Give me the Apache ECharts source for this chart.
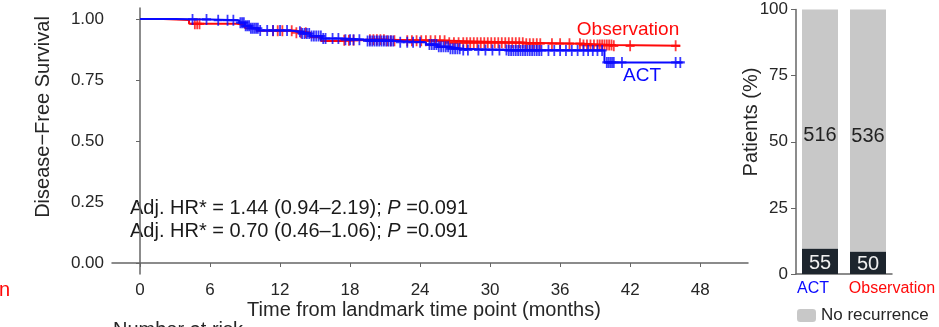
<!DOCTYPE html>
<html>
<head>
<meta charset="utf-8">
<script src="https://cdn.jsdelivr.net/npm/echarts@6/dist/echarts.min.js"></script>
<style>
html,body{margin:0;padding:0;background:#fff;}
#c{width:939px;height:327px;}
</style>
</head>
<body>
<div id="c"></div>
<script>
// ---- Data ----
const xTicks = [0, 6, 12, 18, 24, 30, 36, 42, 48];
const yTicks = [0, 0.25, 0.5, 0.75, 1];

// Kaplan-Meier steps [month, survival]
const actSteps = [[0,1.0],[3,0.998],[6,0.995],[8.5,0.985],[9.0,0.972],[9.5,0.962],[10.2,0.953],[12.8,0.948],[13.8,0.94],[14.6,0.93],[15.6,0.92],[17.5,0.915],[19.5,0.91],[22.0,0.905],[24.5,0.895],[25.5,0.886],[26.5,0.878],[27.6,0.873],[31.5,0.871],[39.8,0.822],[46.5,0.822]];
const obsSteps = [[0,1.0],[2.0,0.996],[4.2,0.98],[8.3,0.975],[9.0,0.962],[10.0,0.952],[13.3,0.944],[14.6,0.925],[15.5,0.91],[17.2,0.913],[18.5,0.915],[21.0,0.911],[26.5,0.903],[33.0,0.899],[38.0,0.893],[40.5,0.89],[46.3,0.89]];

// censoring times
const actCensor = [4.5,5.7,6.7,7.5,8.0,8.6,8.75,8.9,9.05,9.2,9.35,9.5,9.65,9.8,9.95,10.1,10.3,10.9,11.4,12.0,12.6,13.7,13.9,14.1,14.3,14.5,14.7,14.9,15.1,15.3,15.5,15.7,15.9,16.5,17.0,17.6,18.0,18.3,18.8,19.5,19.7,19.9,20.1,20.3,20.5,20.7,20.9,21.1,21.3,21.5,21.7,22.3,22.9,23.4,24.0,24.8,25.0,25.2,25.4,25.6,25.8,26.0,26.2,26.4,26.6,26.8,27.0,27.2,27.4,27.7,28.1,29.0,29.6,30.2,30.8,31.4,31.6,31.8,32.0,32.2,32.4,32.6,32.8,33.0,33.2,33.4,33.6,33.8,34.0,34.2,34.4,35.0,35.5,36.0,36.5,37.0,37.5,38.0,38.4,38.8,39.2,39.6,40.0,40.15,40.3,40.45,40.6,41.3,45.9,46.3];
const obsCensor = [4.7,4.9,5.1,11.4,11.8,12.2,13.0,13.4,13.8,14.2,17.5,17.9,18.3,19.7,20.0,20.3,20.6,20.9,21.2,21.5,21.8,22.9,23.3,23.7,24.1,24.5,24.9,25.3,25.7,26.1,26.5,26.9,27.3,27.7,28.0,28.3,28.6,28.9,29.2,29.5,29.8,30.1,30.4,30.7,31.0,31.3,31.6,31.9,32.2,32.5,32.8,33.1,33.4,33.7,34.0,34.3,35.3,36.0,36.8,37.7,38.0,38.3,38.6,38.9,39.2,39.4,39.6,39.8,40.0,40.2,40.4,40.6,42.0,45.9];

// bar chart
const barCategories = ['ACT', 'Observation'];
const noRecurrence = [516, 536];
const recurrence = [55, 50];

// ---- helpers ----
function survAt(steps, t) {
  let v = steps[0][1];
  for (const s of steps) { if (s[0] <= t) v = s[1]; else break; }
  return v;
}
const FONT = 'Liberation Sans, Arial, sans-serif';
const BLUE = '#0a0aff';
const RED = '#ff0a0a';
const plus = 'path://M4,0h2v10h-2z M0,4h10v2h-10z';

const pctRec = recurrence.map((r, i) => r / (r + noRecurrence[i]) * 100);
const pctNo = noRecurrence.map((n, i) => n / (n + recurrence[i]) * 100);

const chart = echarts.init(document.getElementById('c'), null, {renderer: 'canvas'});
const axisCol = '#666';
const labCol = '#262626';

chart.setOption({
  animation: false,
  textStyle: {fontFamily: FONT},
  grid: [
    {left: 112, top: 8, width: 636, height: 266},
    {left: 796, top: 9.5, width: 96, height: 264.5}
  ],
  legend: {
    data: ['No recurrence', 'Recurrence'],
    orient: 'vertical', left: 797, top: 307, height: 80, padding: 0,
    itemWidth: 19, itemHeight: 13, itemGap: 2,
    textStyle: {fontFamily: FONT, fontSize: 17, color: labCol},
    selectedMode: false
  },
  xAxis: [
    {
      type: 'value', gridIndex: 0, min: -2.4, max: 52.1,
      splitLine: {show: false},
      axisLine: {show: true, lineStyle: {color: axisCol, width: 1.5}},
      axisTick: {show: true, length: 4, customValues: xTicks, lineStyle: {color: axisCol}},
      axisLabel: {customValues: xTicks, fontSize: 17, color: labCol, margin: 8, fontFamily: FONT}
    },
    {
      type: 'category', gridIndex: 1, data: barCategories,
      axisLine: {lineStyle: {color: axisCol, width: 1.5}},
      axisTick: {alignWithLabel: true, length: 4, lineStyle: {color: axisCol}},
      axisLabel: {margin: 7, interval: 0,
        formatter: function (v) { return v === 'ACT' ? '{a|' + v + '}' : '{b|' + v + '}'; },
        rich: {
          a: {fontSize: 16, fontFamily: FONT, color: BLUE, padding: [0, 14, 0, 0]},
          b: {fontSize: 16, fontFamily: FONT, color: RED, padding: [0, 0, 0, 48]}
        }}
    }
  ],
  yAxis: [
    {
      type: 'value', gridIndex: 0, min: -0.045, max: 1.045,
      splitLine: {show: false},
      axisLine: {show: true, lineStyle: {color: axisCol, width: 1.5}},
      axisTick: {show: true, length: 4, customValues: yTicks, lineStyle: {color: axisCol}},
      axisLabel: {customValues: yTicks, fontSize: 17, color: labCol, margin: 8, fontFamily: FONT,
        formatter: function (v) { return v.toFixed(2); }}
    },
    {
      type: 'value', gridIndex: 1, min: 0, max: 100, interval: 25,
      splitLine: {show: false},
      axisLine: {show: true, lineStyle: {color: axisCol, width: 1.5}},
      axisTick: {show: true, length: 5, lineStyle: {color: axisCol}},
      axisLabel: {fontSize: 17, color: labCol, margin: 8, fontFamily: FONT}
    }
  ],
  series: [
    {
      type: 'line', name: 'Observation', xAxisIndex: 0, yAxisIndex: 0,
      data: obsSteps, step: 'end', showSymbol: false,
      lineStyle: {color: RED, width: 2}, z: 2
    },
    {
      type: 'scatter', xAxisIndex: 0, yAxisIndex: 0,
      data: obsCensor.map(t => [t, survAt(obsSteps, t)]),
      symbol: plus, symbolSize: [9, 11], itemStyle: {color: RED}, z: 3
    },
    {
      type: 'line', name: 'ACT', xAxisIndex: 0, yAxisIndex: 0,
      data: actSteps, step: 'end', showSymbol: false,
      lineStyle: {color: BLUE, width: 2}, z: 4
    },
    {
      type: 'scatter', xAxisIndex: 0, yAxisIndex: 0,
      data: actCensor.map(t => [t, survAt(actSteps, t)]),
      symbol: plus, symbolSize: [9, 11], itemStyle: {color: BLUE}, z: 5
    },
    {
      type: 'bar', name: 'Recurrence', xAxisIndex: 1, yAxisIndex: 1, stack: 'p',
      data: pctRec, barWidth: 36, itemStyle: {color: '#1d252d'},
      label: {show: true, position: 'inside', offset: [0, 2], color: '#f0f0f0', fontSize: 20, fontFamily: FONT,
        formatter: p => String(recurrence[p.dataIndex])}
    },
    {
      type: 'bar', name: 'No recurrence', xAxisIndex: 1, yAxisIndex: 1, stack: 'p',
      data: pctNo, barWidth: 36, itemStyle: {color: '#c8c8c8'},
      label: {show: true, position: 'inside', offset: [0, 6], color: '#222', fontSize: 20, fontFamily: FONT,
        formatter: p => String(noRecurrence[p.dataIndex])}
    }
  ],
  graphic: [
    {type: 'text', x: 43, y: 117, rotation: Math.PI / 2,
      style: {text: 'Disease\u2212Free Survival', fontSize: 20, fontFamily: FONT, fill: labCol, align: 'center', verticalAlign: 'middle'}},
    {type: 'text', x: 424, y: 310,
      style: {text: 'Time from landmark time point (months)', fontSize: 20, fontFamily: FONT, fill: labCol, align: 'center', verticalAlign: 'middle'}},
    {type: 'text', x: 113, y: 320,
      style: {text: 'Number at risk', fontSize: 20, fontFamily: FONT, fill: labCol, align: 'left', verticalAlign: 'top'}},
    {type: 'text', x: 10, y: 290,
      style: {text: 'Observation', fontSize: 20, fontFamily: FONT, fill: RED, align: 'right', verticalAlign: 'middle'}},
    {type: 'text', x: 130, y: 208,
      style: {text: '{a|Adj. HR* = 1.44 (0.94\u20132.19); }{i|P}{a| =0.091}', verticalAlign: 'middle',
        rich: {a: {fontSize: 20, fontFamily: FONT, fill: '#1a1a1a'}, i: {fontSize: 20, fontFamily: FONT, fontStyle: 'italic', fill: '#1a1a1a'}}}},
    {type: 'text', x: 130, y: 231,
      style: {text: '{a|Adj. HR* = 0.70 (0.46\u20131.06); }{i|P}{a| =0.091}', verticalAlign: 'middle',
        rich: {a: {fontSize: 20, fontFamily: FONT, fill: '#1a1a1a'}, i: {fontSize: 20, fontFamily: FONT, fontStyle: 'italic', fill: '#1a1a1a'}}}},
    {type: 'text', x: 628, y: 30,
      style: {text: 'Observation', fontSize: 19, fontFamily: FONT, fill: RED, align: 'center', verticalAlign: 'middle'}},
    {type: 'text', x: 642, y: 76,
      style: {text: 'ACT', fontSize: 19, fontFamily: FONT, fill: BLUE, align: 'center', verticalAlign: 'middle'}},
    {type: 'text', x: 751, y: 122, rotation: Math.PI / 2,
      style: {text: 'Patients (%)', fontSize: 20, fontFamily: FONT, fill: labCol, align: 'center', verticalAlign: 'middle'}}
  ]
});
</script>
</body>
</html>
